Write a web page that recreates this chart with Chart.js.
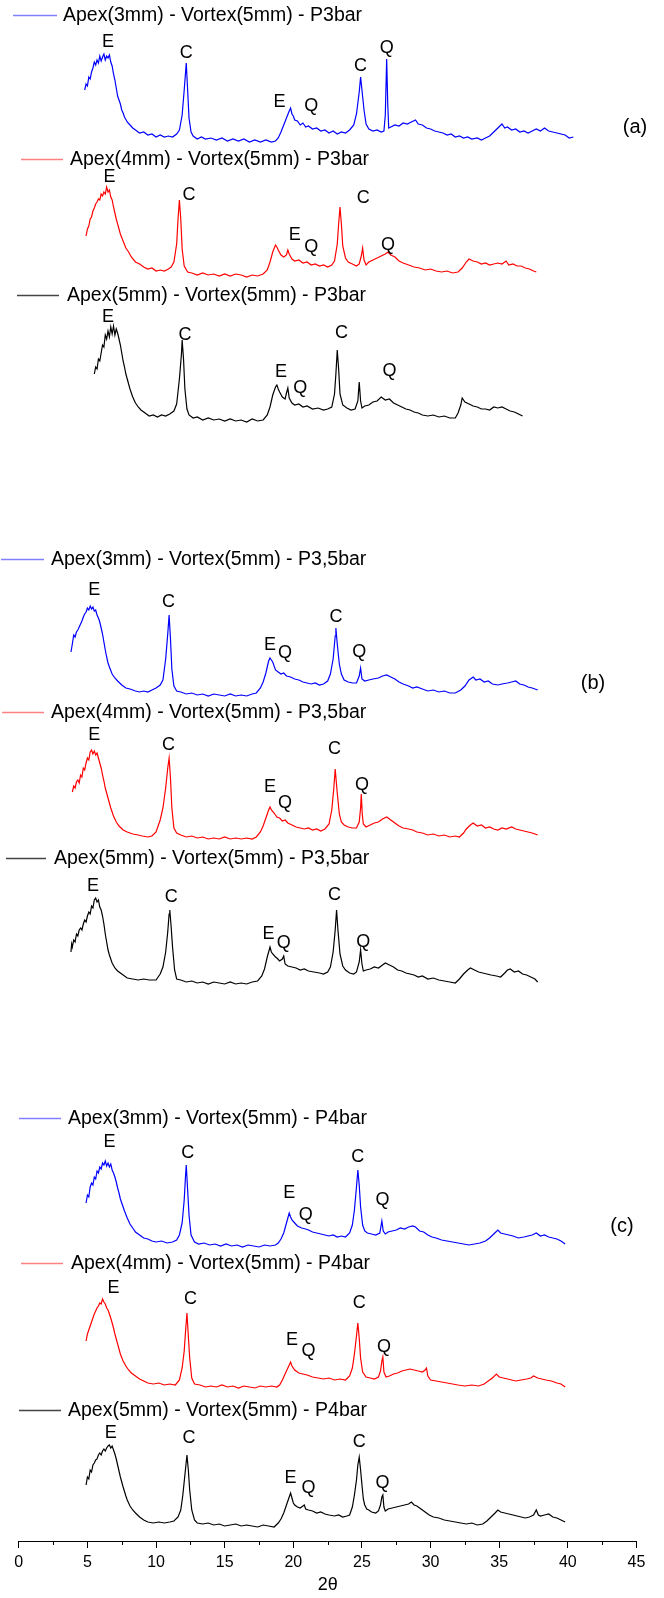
<!DOCTYPE html>
<html><head><meta charset="utf-8">
<script src="https://cdn.jsdelivr.net/npm/chart.js@4.4.0/dist/chart.umd.min.js"></script>
<style>html,body{margin:0;padding:0;background:#fff;}canvas{display:block;}</style>
</head><body>
<canvas id="c" width="664" height="1598"></canvas>
<script>
// ---------- DATA ----------
const xTicks = [0, 5, 10, 15, 20, 25, 30, 35, 40, 45];
const seriesNames = [
  'Apex(3mm) - Vortex(5mm) - P3bar', 'Apex(4mm) - Vortex(5mm) - P3bar', 'Apex(5mm) - Vortex(5mm) - P3bar',
  'Apex(3mm) - Vortex(5mm) - P3,5bar', 'Apex(4mm) - Vortex(5mm) - P3,5bar', 'Apex(5mm) - Vortex(5mm) - P3,5bar',
  'Apex(3mm) - Vortex(5mm) - P4bar', 'Apex(4mm) - Vortex(5mm) - P4bar', 'Apex(5mm) - Vortex(5mm) - P4bar'
];
const panelNames = ['(a)', '(b)', '(c)'];
// vertical stacking offsets (a.u.)
const offsets = [1401, 1267, 1122, 847, 703, 559, 296, 155, 16];

// [2theta, intensity a.u.]
const a1 = [[4.8,50],[4.9,56],[5.0,54],[5.1,63],[5.2,61],[5.3,68],[5.4,72],[5.5,78],[5.6,75],[5.7,80],[5.8,77],[5.9,84],[6.0,79],[6.1,83],[6.2,86],[6.3,80],[6.4,84],[6.5,82],[6.6,85],[6.7,78],[6.8,74],[6.9,66],[7.0,60],[7.1,52],[7.2,44],[7.3,40],[7.4,36],[7.5,30],[7.6,27],[7.7,23],[7.9,18],[8.1,15],[8.3,12],[8.5,10],[8.8,7],[9.1,8],[9.4,5],[9.7,6],[10.0,3],[10.3,5],[10.6,3],[10.9,4],[11.2,3],[11.5,6],[11.7,10],[11.9,25],[12.05,50],[12.2,77],[12.3,50],[12.4,22],[12.55,8],[12.7,4],[13.0,1],[13.3,3],[13.6,1],[14.0,2],[14.4,0],[14.8,2],[15.2,-1],[15.6,1],[16.0,-1],[16.4,1],[16.8,-2],[17.2,0],[17.6,-2],[18.0,0],[18.4,-2],[18.7,-1],[18.9,2],[19.1,8],[19.3,15],[19.5,22],[19.7,29],[19.8,32],[19.9,26],[20.0,24],[20.1,20],[20.3,19],[20.5,15],[20.7,17],[20.9,13],[21.1,14],[21.4,11],[21.7,12],[22.0,9],[22.3,10],[22.6,7],[22.9,9],[23.2,6],[23.5,8],[23.8,7],[24.1,10],[24.4,15],[24.6,26],[24.8,48],[24.9,63],[25.0,50],[25.15,30],[25.3,16],[25.5,11],[25.8,9],[26.1,10],[26.4,8],[26.6,9],[26.7,25],[26.8,81],[26.88,35],[26.95,12],[27.1,13],[27.4,15],[27.7,14],[28.0,17],[28.3,16],[28.6,18],[28.9,20],[29.1,16],[29.4,15],[29.7,12],[30.0,11],[30.3,9],[30.6,8],[30.9,7],[31.2,5],[31.5,6],[31.8,3],[32.1,4],[32.4,2],[32.7,3],[33.0,1],[33.4,2],[33.7,0],[34.0,2],[34.3,4],[34.6,8],[34.9,12],[35.2,16],[35.4,12],[35.6,13],[35.9,10],[36.2,11],[36.5,8],[36.8,9],[37.1,7],[37.4,9],[37.7,11],[38.0,9],[38.3,12],[38.6,9],[38.9,8],[39.2,7],[39.5,6],[39.8,5],[40.1,2],[40.4,3]];
const a2 = [[4.9,38],[5.0,45],[5.1,48],[5.2,55],[5.3,57],[5.4,63],[5.5,66],[5.6,70],[5.7,72],[5.8,75],[5.9,74],[6.0,80],[6.1,78],[6.2,82],[6.3,80],[6.4,87],[6.5,82],[6.6,84],[6.7,77],[6.8,74],[6.9,67],[7.0,61],[7.1,55],[7.2,50],[7.4,40],[7.6,33],[7.8,26],[8.0,22],[8.2,17],[8.5,12],[8.8,10],[9.1,7],[9.4,5],[9.7,6],[10.0,3],[10.3,4],[10.6,3],[10.9,5],[11.1,7],[11.3,12],[11.5,30],[11.6,55],[11.7,74],[11.8,55],[11.9,25],[12.05,8],[12.3,2],[12.6,1],[13.0,-1],[13.4,1],[13.8,-1],[14.2,0],[14.6,-2],[15.0,0],[15.4,-2],[15.8,0],[16.2,-1],[16.6,-3],[17.0,-1],[17.4,-2],[17.8,0],[18.1,4],[18.3,12],[18.5,22],[18.7,29],[18.8,27],[18.9,24],[19.1,19],[19.3,17],[19.5,19],[19.6,24],[19.7,20],[19.9,15],[20.1,13],[20.4,14],[20.7,11],[21.0,12],[21.3,9],[21.6,10],[21.9,8],[22.2,9],[22.5,7],[22.8,9],[23.0,13],[23.2,30],[23.3,50],[23.4,67],[23.5,50],[23.6,28],[23.8,16],[24.0,12],[24.3,10],[24.6,8],[24.8,10],[24.95,18],[25.05,26],[25.15,14],[25.3,9],[25.5,12],[25.8,14],[26.1,16],[26.4,18],[26.7,20],[26.9,22],[27.1,19],[27.4,17],[27.7,13],[28.0,11],[28.4,9],[28.8,7],[29.2,6],[29.6,4],[30.0,5],[30.4,3],[30.8,2],[31.2,3],[31.6,1],[32.0,2],[32.3,6],[32.6,12],[32.8,15],[33.1,13],[33.4,12],[33.7,10],[34.0,11],[34.3,9],[34.6,10],[34.9,11],[35.2,10],[35.5,13],[35.7,9],[36.0,10],[36.3,8],[36.6,8],[36.9,6],[37.2,5],[37.5,3],[37.7,2]];
const a3 = [[5.5,45],[5.6,52],[5.7,50],[5.8,60],[5.9,58],[6.0,66],[6.1,74],[6.2,72],[6.3,84],[6.4,80],[6.5,88],[6.6,82],[6.7,92],[6.8,85],[6.9,93],[7.0,84],[7.1,90],[7.2,86],[7.3,80],[7.4,74],[7.5,66],[7.6,58],[7.7,52],[7.8,45],[7.9,40],[8.1,30],[8.3,22],[8.5,16],[8.7,12],[8.9,9],[9.2,6],[9.5,3],[9.8,4],[10.1,2],[10.4,4],[10.7,3],[11.0,5],[11.3,8],[11.5,15],[11.7,40],[11.85,65],[11.9,79],[12.0,60],[12.1,30],[12.25,10],[12.4,4],[12.7,1],[13.0,2],[13.4,-1],[13.8,1],[14.2,-1],[14.6,0],[15.0,-2],[15.4,0],[15.8,-2],[16.2,-1],[16.6,-3],[17.0,0],[17.4,-2],[17.8,-1],[18.1,4],[18.3,12],[18.5,24],[18.7,32],[18.8,34],[18.9,30],[19.0,27],[19.2,22],[19.4,20],[19.5,26],[19.6,31],[19.7,21],[19.9,16],[20.1,14],[20.4,15],[20.7,12],[21.0,13],[21.4,10],[21.8,11],[22.2,9],[22.5,10],[22.8,12],[23.0,25],[23.1,45],[23.2,69],[23.3,50],[23.4,25],[23.6,14],[23.9,11],[24.2,9],[24.5,10],[24.7,18],[24.8,37],[24.9,18],[25.0,11],[25.2,13],[25.5,14],[25.8,17],[26.1,18],[26.4,22],[26.7,19],[27.0,20],[27.3,16],[27.6,14],[27.9,12],[28.2,10],[28.5,9],[28.8,7],[29.1,6],[29.4,4],[29.8,3],[30.2,4],[30.6,2],[31.0,3],[31.4,1],[31.8,1],[32.0,6],[32.2,14],[32.3,21],[32.5,17],[32.8,15],[33.1,13],[33.4,12],[33.7,10],[34.0,10],[34.3,9],[34.6,12],[34.9,11],[35.2,12],[35.5,10],[35.8,8],[36.1,7],[36.4,5],[36.7,3]];
const b1 = [[3.8,42],[3.9,50],[4.0,59],[4.1,57],[4.2,62],[4.3,64],[4.4,67],[4.5,70],[4.6,73],[4.7,77],[4.8,80],[4.9,82],[5.0,86],[5.1,84],[5.2,88],[5.3,85],[5.4,87],[5.5,83],[5.6,84],[5.7,79],[5.8,76],[5.9,72],[6.0,66],[6.1,60],[6.2,52],[6.3,44],[6.4,37],[6.5,31],[6.6,27],[6.8,20],[7.0,16],[7.2,13],[7.5,9],[7.8,6],[8.1,5],[8.5,3],[8.8,2],[9.1,3],[9.4,2],[9.7,4],[10.0,6],[10.3,9],[10.5,14],[10.7,35],[10.85,60],[10.95,79],[11.05,55],[11.15,25],[11.3,8],[11.5,3],[11.8,2],[12.2,0],[12.6,1],[13.0,-1],[13.4,0],[13.8,-2],[14.2,0],[14.6,-1],[15.0,-2],[15.4,0],[15.8,-2],[16.2,-1],[16.6,-2],[17.0,0],[17.3,1],[17.6,6],[17.8,12],[18.0,21],[18.2,33],[18.3,36],[18.4,34],[18.5,32],[18.7,24],[18.9,22],[19.1,20],[19.3,21],[19.5,18],[19.8,17],[20.1,15],[20.4,14],[20.7,12],[21.0,11],[21.3,10],[21.6,11],[21.9,9],[22.2,10],[22.5,13],[22.7,20],[22.9,35],[23.05,58],[23.1,66],[23.2,50],[23.35,30],[23.5,20],[23.7,14],[24.0,12],[24.3,11],[24.6,11],[24.8,18],[24.9,26],[25.0,15],[25.2,13],[25.5,14],[25.8,15],[26.2,16],[26.5,18],[26.8,19],[27.1,17],[27.4,15],[27.7,12],[28.0,10],[28.4,8],[28.7,6],[29.0,7],[29.4,5],[29.8,3],[30.2,4],[30.6,2],[31.0,3],[31.4,1],[31.8,1],[32.2,4],[32.5,8],[32.8,14],[33.1,17],[33.3,14],[33.6,15],[33.9,12],[34.2,13],[34.5,10],[34.9,9],[35.2,10],[35.6,11],[35.9,12],[36.2,13],[36.5,10],[36.8,9],[37.1,7],[37.4,6],[37.8,4]];
const b2 = [[3.9,46],[4.0,52],[4.1,50],[4.2,56],[4.3,58],[4.4,55],[4.5,63],[4.6,61],[4.7,70],[4.8,68],[4.9,75],[5.0,80],[5.1,78],[5.2,86],[5.3,88],[5.4,84],[5.5,87],[5.6,83],[5.7,85],[5.8,80],[5.9,75],[6.0,70],[6.1,63],[6.2,57],[6.3,50],[6.4,45],[6.5,40],[6.7,30],[6.9,22],[7.1,16],[7.3,12],[7.6,8],[7.9,6],[8.3,4],[8.7,3],[9.0,2],[9.4,1],[9.7,2],[10.0,6],[10.3,18],[10.5,30],[10.7,50],[10.85,70],[10.95,80],[11.05,60],[11.15,30],[11.3,10],[11.5,5],[11.8,3],[12.2,1],[12.6,2],[13.0,0],[13.4,1],[13.8,-1],[14.2,0],[14.6,-1],[15.0,1],[15.4,-1],[15.8,0],[16.2,-1],[16.6,0],[17.0,-1],[17.3,1],[17.6,6],[17.8,12],[18.0,20],[18.2,28],[18.3,31],[18.4,28],[18.6,25],[18.8,21],[19.0,20],[19.2,17],[19.4,18],[19.6,15],[19.9,13],[20.2,11],[20.5,10],[20.8,9],[21.1,10],[21.4,8],[21.7,9],[22.0,7],[22.3,9],[22.6,14],[22.8,28],[22.95,50],[23.05,69],[23.2,45],[23.35,24],[23.5,16],[23.7,13],[24.0,11],[24.3,10],[24.6,10],[24.8,16],[24.9,30],[24.95,44],[25.02,24],[25.1,14],[25.3,11],[25.6,13],[25.9,15],[26.2,16],[26.5,19],[26.8,21],[27.1,18],[27.4,15],[27.7,12],[28.0,10],[28.4,9],[28.7,8],[29.0,6],[29.4,5],[29.8,3],[30.2,4],[30.6,2],[31.0,3],[31.4,1],[31.8,2],[32.1,1],[32.4,5],[32.6,9],[32.9,13],[33.1,15],[33.4,12],[33.7,13],[34.0,10],[34.3,11],[34.6,9],[34.9,8],[35.2,10],[35.5,9],[35.9,11],[36.2,9],[36.5,8],[36.8,7],[37.1,6],[37.4,5],[37.8,3]];
const b3 = [[3.8,30],[3.85,38],[3.9,35],[4.0,42],[4.1,40],[4.2,48],[4.3,46],[4.4,52],[4.5,54],[4.6,52],[4.7,58],[4.8,62],[4.9,60],[5.0,66],[5.1,70],[5.2,68],[5.3,76],[5.4,74],[5.5,82],[5.6,84],[5.7,80],[5.8,82],[5.9,75],[6.0,72],[6.1,66],[6.2,58],[6.3,48],[6.4,40],[6.5,32],[6.6,27],[6.8,19],[7.0,14],[7.2,11],[7.5,8],[7.9,4],[8.3,3],[8.7,2],[9.1,3],[9.5,2],[10.0,2],[10.3,8],[10.5,15],[10.7,30],[10.85,50],[10.95,68],[11.0,72],[11.1,55],[11.2,35],[11.35,12],[11.5,3],[11.8,2],[12.2,0],[12.6,1],[13.0,-1],[13.4,0],[13.8,-2],[14.2,0],[14.6,-1],[15.0,-2],[15.4,0],[15.8,-2],[16.2,-1],[16.6,-2],[17.0,0],[17.4,1],[17.7,6],[17.9,13],[18.1,25],[18.3,35],[18.4,30],[18.5,28],[18.7,25],[18.8,24],[19.0,21],[19.2,23],[19.3,26],[19.4,18],[19.6,16],[19.9,15],[20.2,14],[20.5,12],[20.8,13],[21.1,11],[21.5,10],[21.9,9],[22.2,8],[22.5,10],[22.7,15],[22.9,30],[23.05,52],[23.15,72],[23.25,52],[23.4,28],[23.6,16],[23.8,12],[24.1,9],[24.4,8],[24.6,10],[24.8,20],[24.9,32],[25.0,18],[25.1,11],[25.3,12],[25.6,13],[25.9,15],[26.2,14],[26.5,17],[26.7,19],[27.0,17],[27.3,15],[27.6,12],[27.9,11],[28.2,9],[28.5,8],[28.8,7],[29.1,5],[29.4,6],[29.8,3],[30.2,4],[30.6,2],[31.0,1],[31.4,0],[31.8,-1],[32.1,3],[32.4,8],[32.7,12],[32.9,14],[33.2,12],[33.5,10],[33.8,9],[34.1,8],[34.4,7],[34.8,6],[35.1,5],[35.4,9],[35.6,12],[35.8,13],[36.1,10],[36.4,11],[36.7,8],[37.0,7],[37.3,5],[37.6,3],[37.8,0]];
const c1 = [[4.9,42],[5.0,50],[5.1,48],[5.2,58],[5.3,62],[5.4,60],[5.5,68],[5.6,66],[5.7,74],[5.8,72],[5.9,78],[6.0,76],[6.1,82],[6.2,80],[6.3,84],[6.4,79],[6.5,82],[6.6,78],[6.7,81],[6.8,75],[6.9,72],[7.0,68],[7.1,63],[7.2,57],[7.3,52],[7.4,46],[7.5,42],[7.7,34],[7.9,27],[8.1,21],[8.3,17],[8.5,13],[8.8,10],[9.1,7],[9.4,6],[9.7,4],[10.0,3],[10.4,4],[10.8,2],[11.2,3],[11.5,5],[11.7,10],[11.9,22],[12.05,45],[12.15,70],[12.2,80],[12.3,55],[12.4,30],[12.55,10],[12.8,3],[13.1,1],[13.5,2],[13.9,0],[14.3,1],[14.7,-1],[15.1,1],[15.5,-1],[15.9,0],[16.3,-2],[16.7,0],[17.1,-1],[17.5,-2],[17.9,0],[18.3,-1],[18.7,0],[18.9,2],[19.1,6],[19.3,12],[19.5,22],[19.7,32],[19.8,28],[19.9,25],[20.1,22],[20.3,19],[20.6,17],[20.9,16],[21.1,15],[21.4,13],[21.7,12],[22.0,11],[22.3,10],[22.6,9],[22.9,10],[23.2,8],[23.5,9],[23.8,8],[24.1,12],[24.3,20],[24.45,35],[24.6,58],[24.7,75],[24.8,60],[24.9,38],[25.05,20],[25.2,14],[25.4,12],[25.7,11],[26.0,10],[26.3,12],[26.45,24],[26.55,14],[26.7,11],[26.9,13],[27.2,14],[27.5,15],[27.8,17],[28.1,16],[28.4,18],[28.7,19],[28.9,18],[29.2,14],[29.5,13],[29.8,10],[30.1,8],[30.4,7],[30.8,5],[31.2,4],[31.6,3],[32.0,2],[32.4,1],[32.8,0],[33.2,1],[33.6,2],[34.0,4],[34.3,7],[34.6,11],[34.9,15],[35.1,12],[35.4,11],[35.7,10],[36.0,9],[36.4,7],[36.8,8],[37.1,9],[37.4,10],[37.7,12],[38.0,9],[38.3,10],[38.6,8],[38.9,7],[39.2,6],[39.5,4],[39.8,1]];
const c2 = [[4.9,45],[5.0,52],[5.1,56],[5.2,60],[5.3,64],[5.4,68],[5.5,72],[5.6,75],[5.7,78],[5.8,80],[5.9,83],[6.0,82],[6.1,87],[6.2,84],[6.3,82],[6.4,78],[6.5,76],[6.6,72],[6.7,68],[6.8,63],[6.9,58],[7.0,52],[7.2,42],[7.4,32],[7.6,25],[7.8,20],[8.0,16],[8.2,13],[8.5,10],[8.8,7],[9.1,5],[9.4,3],[9.8,2],[10.2,3],[10.6,1],[11.0,2],[11.4,1],[11.7,6],[11.9,18],[12.05,35],[12.15,55],[12.25,73],[12.35,50],[12.45,28],[12.6,8],[12.8,2],[13.2,1],[13.6,-1],[14.0,0],[14.4,-1],[14.8,1],[15.2,-1],[15.6,0],[16.0,-2],[16.4,0],[16.8,-1],[17.2,-2],[17.6,0],[18.0,-1],[18.4,0],[18.8,-1],[19.0,1],[19.2,6],[19.4,12],[19.6,18],[19.8,24],[19.9,20],[20.1,16],[20.4,13],[20.7,12],[21.0,11],[21.4,9],[21.8,8],[22.2,7],[22.6,8],[23.0,6],[23.4,7],[23.8,6],[24.1,10],[24.3,18],[24.45,32],[24.6,50],[24.7,63],[24.8,48],[24.9,28],[25.05,14],[25.3,9],[25.6,8],[25.9,7],[26.2,9],[26.35,15],[26.45,25],[26.52,29],[26.6,14],[26.75,9],[27.0,10],[27.3,12],[27.6,13],[27.9,15],[28.2,16],[28.5,17],[28.8,16],[29.1,15],[29.4,14],[29.6,16],[29.7,18],[29.8,10],[30.0,6],[30.4,5],[30.8,4],[31.2,3],[31.6,2],[32.0,1],[32.5,0],[33.0,1],[33.5,0],[33.9,2],[34.2,5],[34.5,8],[34.8,12],[35.0,9],[35.3,8],[35.6,7],[35.9,6],[36.2,5],[36.6,6],[37.0,7],[37.3,8],[37.5,10],[37.8,8],[38.1,7],[38.4,6],[38.8,5],[39.2,3],[39.5,2],[39.8,-1]];
const c3 = [[4.9,40],[5.0,48],[5.1,46],[5.2,55],[5.3,53],[5.4,60],[5.5,62],[5.6,65],[5.7,66],[5.8,70],[5.9,72],[6.0,70],[6.1,74],[6.2,76],[6.3,74],[6.4,77],[6.5,79],[6.6,80],[6.7,77],[6.8,79],[6.9,75],[7.0,71],[7.1,66],[7.2,60],[7.3,54],[7.4,48],[7.6,38],[7.8,29],[7.9,25],[8.1,19],[8.3,15],[8.5,12],[8.8,8],[9.1,5],[9.4,3],[9.8,2],[10.2,3],[10.6,2],[11.0,3],[11.3,4],[11.6,8],[11.8,15],[11.95,30],[12.1,50],[12.25,70],[12.35,55],[12.45,35],[12.6,15],[12.8,5],[13.0,2],[13.4,1],[13.8,2],[14.2,0],[14.6,1],[15.0,-1],[15.4,0],[15.8,1],[16.2,-1],[16.6,0],[17.0,-1],[17.4,-2],[17.8,0],[18.2,-1],[18.6,-2],[18.9,2],[19.1,6],[19.3,12],[19.5,20],[19.7,28],[19.8,32],[19.9,27],[20.0,22],[20.1,20],[20.3,18],[20.5,17],[20.7,19],[20.8,20],[20.9,16],[21.1,15],[21.4,14],[21.7,12],[22.0,13],[22.3,11],[22.6,10],[23.0,9],[23.3,10],[23.6,8],[23.9,9],[24.1,10],[24.3,18],[24.45,30],[24.6,45],[24.7,60],[24.8,68],[24.9,55],[25.0,40],[25.1,26],[25.2,20],[25.35,16],[25.5,15],[25.7,13],[26.0,12],[26.2,14],[26.35,20],[26.45,28],[26.52,30],[26.6,18],[26.7,14],[26.9,16],[27.2,17],[27.5,18],[27.8,19],[28.1,20],[28.4,21],[28.6,23],[28.8,20],[29.0,19],[29.3,16],[29.6,13],[29.9,10],[30.2,8],[30.6,7],[31.0,5],[31.4,4],[31.8,3],[32.2,2],[32.6,1],[33.0,2],[33.4,0],[33.8,1],[34.1,4],[34.4,8],[34.7,12],[34.9,15],[35.1,13],[35.4,12],[35.7,11],[36.0,10],[36.3,9],[36.6,8],[36.9,7],[37.2,8],[37.5,10],[37.7,15],[37.85,10],[38.0,9],[38.3,10],[38.6,11],[38.9,8],[39.2,7],[39.5,5],[39.8,3]];

// peak labels: [text, 2theta, intensity a.u.]
const a1Peaks = [['E',6.5,98],['C',12.2,87],['E',19.0,38],['Q',21.3,34],['C',24.9,74],['Q',26.8,92]];
const a2Peaks = [['E',6.6,97],['C',12.4,79],['E',20.1,39],['Q',21.3,27],['C',25.1,76],['Q',26.9,29]];
const a3Peaks = [['E',6.5,102],['C',12.1,84],['E',19.1,47],['Q',20.5,31],['C',23.5,86],['Q',27.0,48]];
const b1Peaks = [['E',5.5,104],['C',10.9,92],['E',18.3,49],['Q',19.4,41],['C',23.1,77],['Q',24.8,42]];
const b2Peaks = [['E',5.5,103],['C',10.9,93],['E',18.3,51],['Q',19.4,35],['C',23.0,89],['Q',25.0,53]];
const b3Peaks = [['E',5.4,96],['C',11.1,85],['E',18.2,48],['Q',19.3,39],['C',23.0,87],['Q',25.1,40]];
const c1Peaks = [['E',6.6,103],['C',12.3,92],['E',19.7,52],['Q',20.9,30],['C',24.7,88],['Q',26.5,45]];
const c2Peaks = [['E',6.9,98],['C',12.5,87],['E',19.9,46],['Q',21.1,35],['C',24.8,83],['Q',26.6,39]];
const c3Peaks = [['E',6.7,92],['C',12.4,87],['E',19.8,47],['Q',21.1,37],['C',24.8,83],['Q',26.5,42]];

const traces = [a1, a2, a3, b1, b2, b3, c1, c2, c3];
const peakLabels = [a1Peaks, a2Peaks, a3Peaks, b1Peaks, b2Peaks, b3Peaks, c1Peaks, c2Peaks, c3Peaks];

// ---------- STYLE / LAYOUT ----------
const lineColors = ['#0000ff', '#ff0000', '#000000'];
const legendColors = ['#8080ff', '#ff8080', '#444444'];
const FONT = '"Liberation Sans", Arial, Helvetica, sans-serif';
const legendLayout = [
  {y:15, x1:13, x2:57, tx:63}, {y:159, x1:21, x2:63, tx:70}, {y:295, x1:17, x2:59, tx:67},
  {y:559, x1:1, x2:44, tx:51}, {y:712, x1:2, x2:44, tx:51}, {y:858, x1:6, x2:46, tx:54},
  {y:1118, x1:19, x2:61, tx:68}, {y:1263, x1:21, x2:63, tx:71}, {y:1410, x1:19, x2:61, tx:68}
];
const panelLayout = [{x:635, y:127}, {x:593, y:683}, {x:622, y:1226}];
const AXIS_Y = 1541;

const datasets = traces.map((tr, i) => ({
  label: seriesNames[i],
  data: tr.map(([x, v]) => ({x, y: offsets[i] + v})),
  borderColor: lineColors[i % 3],
  borderWidth: 1.2,
  pointRadius: 0,
  tension: 0,
  fill: false
}));

const annot = {
  id: 'annot',
  afterDatasetsDraw(chart) {
    const {ctx} = chart;
    const xs = chart.scales.x, ys = chart.scales.y;
    ctx.save();
    // minor ticks
    ctx.strokeStyle = '#000'; ctx.lineWidth = 1;
    const yb = chart.chartArea.bottom;
    for (let i = 0; i < xTicks.length - 1; i++) {
      const v = (xTicks[i] + xTicks[i + 1]) / 2;
      const px = Math.round(xs.getPixelForValue(v)) + 0.5;
      ctx.beginPath(); ctx.moveTo(px, yb); ctx.lineTo(px, yb + 4); ctx.stroke();
    }
    // peak labels
    ctx.fillStyle = '#000';
    ctx.font = '18px ' + FONT;
    ctx.textAlign = 'center'; ctx.textBaseline = 'middle';
    peakLabels.forEach((arr, i) => arr.forEach(([t, px, v]) => {
      ctx.fillText(t, xs.getPixelForValue(px), ys.getPixelForValue(offsets[i] + v));
    }));
    // legends
    ctx.textAlign = 'left';
    ctx.font = '19.5px ' + FONT;
    legendLayout.forEach((L, i) => {
      ctx.strokeStyle = legendColors[i % 3]; ctx.lineWidth = 1.5;
      ctx.beginPath(); ctx.moveTo(L.x1, L.y + 0.5); ctx.lineTo(L.x2, L.y + 0.5); ctx.stroke();
      ctx.fillStyle = '#000';
      ctx.fillText(seriesNames[i], L.tx, L.y + 1);
    });
    // panel labels
    ctx.textAlign = 'center';
    ctx.font = '20px ' + FONT;
    panelLayout.forEach((p, i) => ctx.fillText(panelNames[i], p.x, p.y));
    ctx.restore();
  }
};

new Chart(document.getElementById('c'), {
  type: 'line',
  data: {datasets},
  options: {
    responsive: false,
    devicePixelRatio: 1,
    animation: false,
    layout: {padding: {left: 18.8, right: 27.5, top: 0, bottom: 0}},
    plugins: {legend: {display: false}, tooltip: {enabled: false}},
    scales: {
      x: {
        type: 'linear', min: 0, max: 45,
        afterBuildTicks(scale) { scale.ticks = xTicks.map(v => ({value: v})); },
        afterFit(scale) { scale.height = 1598 - AXIS_Y; },
        ticks: {color: '#000', font: {size: 16, family: FONT}, padding: 5, maxRotation: 0, autoSkip: false},
        grid: {drawOnChartArea: false, drawTicks: true, tickLength: 7, color: '#000', lineWidth: 1},
        border: {display: true, color: '#000', width: 1},
        title: {display: true, text: '2θ', color: '#000', font: {size: 18, family: FONT}, padding: {top: 0, bottom: 2}}
      },
      y: {display: false, min: 0, max: AXIS_Y}
    }
  },
  plugins: [annot]
});
</script>
</body></html>
